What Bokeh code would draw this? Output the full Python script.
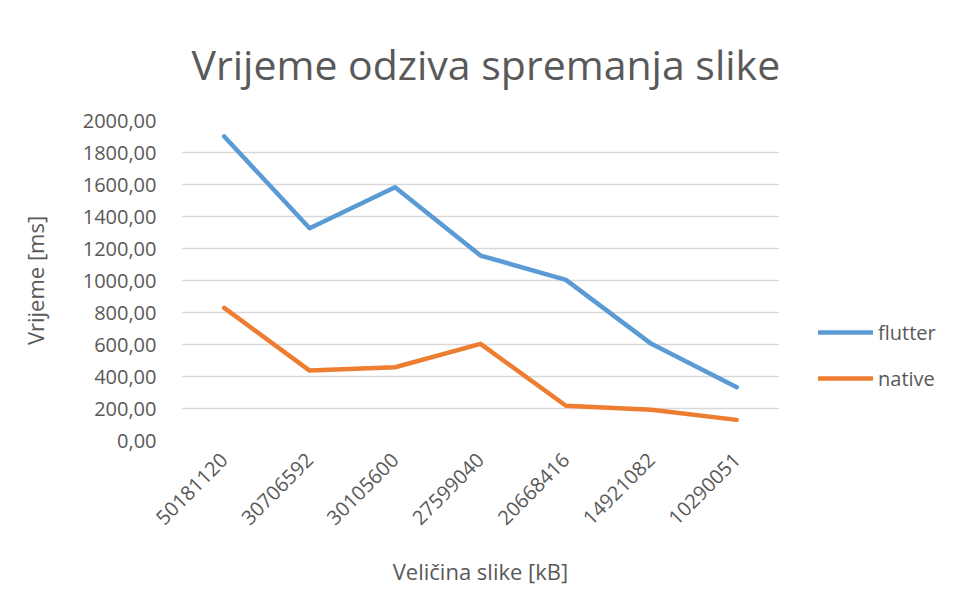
from bokeh.plotting import figure
from bokeh.models import FixedTicker, Legend, LegendItem, FactorRange, Range1d
from bokeh.embed import file_html
from bokeh.resources import INLINE
import math

categories = ["50181120", "30706592", "30105600", "27599040", "20668416", "14921082", "10290051"]
flutter = [1900, 1327, 1583, 1156, 1004, 604, 333]
native = [829, 437, 458, 604, 217, 192, 129]
y_ticks = [0, 200, 400, 600, 800, 1000, 1200, 1400, 1600, 1800, 2000]
y_tick_labels = ["0,00", "200,00", "400,00", "600,00", "800,00", "1000,00",
                 "1200,00", "1400,00", "1600,00", "1800,00", "2000,00"]

TEXT = "#595959"
FONT = "Open Sans"

p = figure(frame_width=598, frame_height=320, output_backend="svg", toolbar_location=None,
           x_range=FactorRange(*categories), y_range=Range1d(0, 2000),
           min_border_left=181, min_border_right=150, min_border_top=120,
           min_border_bottom=150)

p.title.text = "Vrijeme odziva spremanja slike"
p.title.text_font = FONT
p.title.text_font_size = "41px"
p.title.text_font_style = "normal"
p.title.text_color = TEXT
p.title.align = "left"
p.title.standoff = 57
p.title.offset = 10

p.outline_line_color = None
p.background_fill_color = "white"
p.border_fill_color = "white"

# grid
p.xgrid.grid_line_color = None
p.ygrid.grid_line_color = "#d9d9d9"
p.ygrid.grid_line_width = 1.3
p.yaxis.ticker = FixedTicker(ticks=y_ticks)
p.yaxis.major_label_overrides = {t: l for t, l in zip(y_ticks, y_tick_labels)}

for ax in (p.xaxis[0], p.yaxis[0]):
    ax.axis_line_color = None
    ax.major_tick_line_color = None
    ax.minor_tick_line_color = None
    ax.major_label_text_font = FONT
    ax.major_label_text_font_size = "20px"
    ax.major_label_text_color = TEXT
    ax.axis_label_text_font = FONT
    ax.axis_label_text_font_size = "22px"
    ax.axis_label_text_font_style = "normal"
    ax.axis_label_text_color = TEXT

p.xaxis.axis_label = "Veličina slike [kB]"
p.yaxis.axis_label = "Vrijeme [ms]"
p.xaxis.major_label_orientation = math.pi / 4
p.xaxis.major_label_standoff = 10
p.xaxis.axis_label_standoff = 22
p.yaxis.major_label_standoff = 19
p.yaxis.axis_label_standoff = 30

r1 = p.line(categories, flutter, line_color="#5B9BD5", line_width=4.5,
            line_cap="round", line_join="round")
r2 = p.line(categories, native, line_color="#ED7D31", line_width=4.5,
            line_cap="round", line_join="round")

legend = Legend(items=[LegendItem(label="flutter", renderers=[r1]),
                       LegendItem(label="native", renderers=[r2])],
                location=(39, 47), orientation="vertical",
                padding=0, margin=0, spacing=16,
                glyph_width=55, glyph_height=30, label_height=30,
                label_standoff=5, label_text_font=FONT,
                label_text_font_size="20px", label_text_color=TEXT,
                border_line_color=None, background_fill_alpha=0)
p.add_layout(legend, "right")

open("out.html", "w").write(file_html(p, INLINE))
